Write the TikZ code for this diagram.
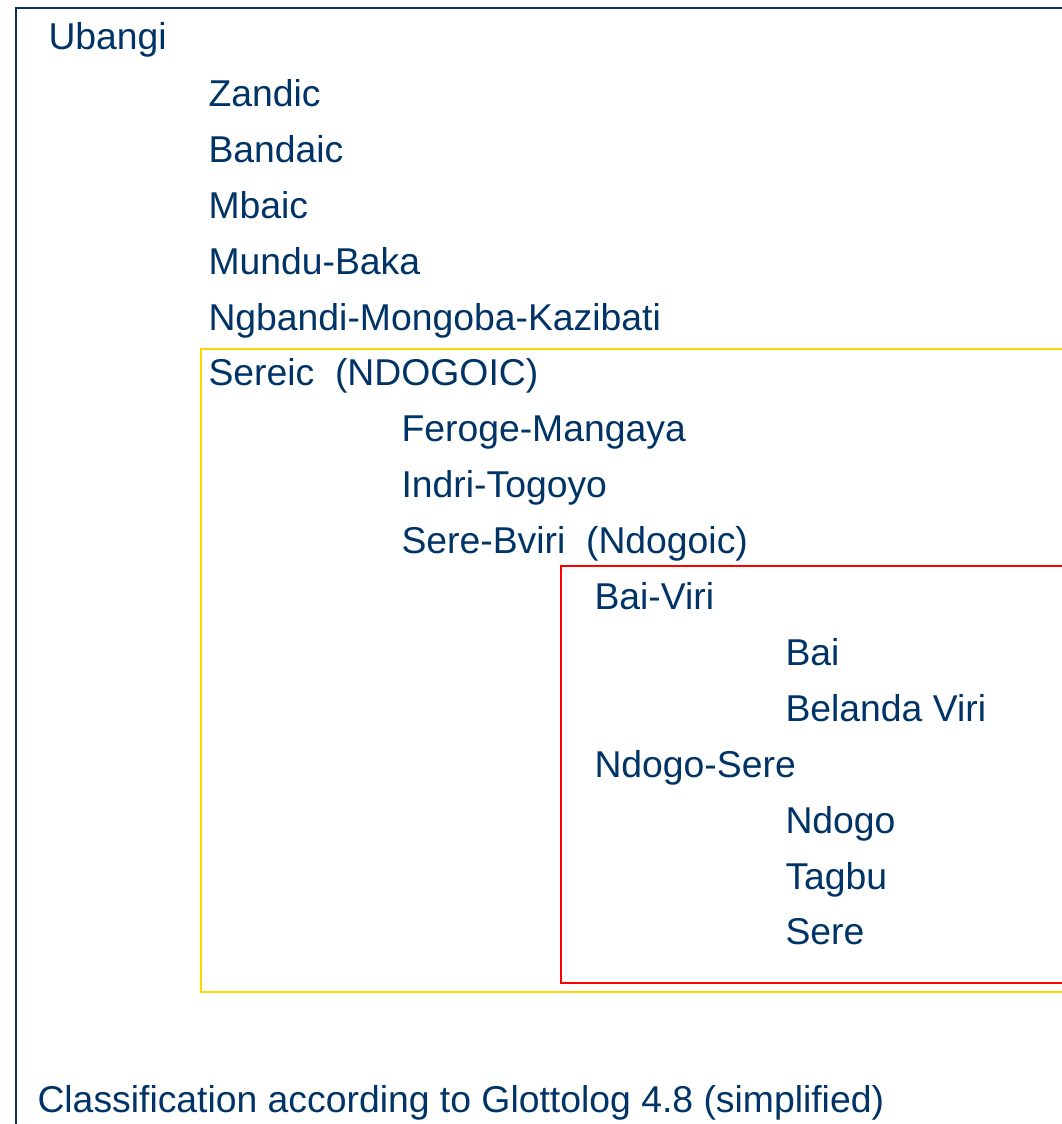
\documentclass[tikz,border=0pt]{standalone}
\usepackage{fontspec}
\setmainfont{Liberation Sans}
\definecolor{navy}{RGB}{0,51,102}
\definecolor{gold}{RGB}{255,215,0}
\tikzset{every picture/.style={line width=0.75pt}}
\tikzset{lang/.style={anchor=base west,inner sep=0pt,text=navy,font=\fontsize{28}{34}\selectfont}}

\begin{document}
\begin{tikzpicture}[x=0.75pt,y=0.75pt,yscale=-1,xscale=1]
	\useasboundingbox (0,0) rectangle (1061,1124);

	%Shape: Rectangle [id:outer]
	\draw  [draw=navy,line width=2pt] (16,8) -- (1080,8) -- (1080,1140) -- (16,1140) -- cycle ;
	%Shape: Rectangle [id:sereic]
	\draw  [draw=gold,line width=2pt] (201,349) -- (1080,349) -- (1080,992) -- (201,992) -- cycle ;
	%Shape: Rectangle [id:serebviri]
	\draw  [draw=red,line width=2pt] (561,566) -- (1080,566) -- (1080,983) -- (561,983) -- cycle ;

	% Text Node
	\node [lang] (ubangi) at (48,50) {Ubangi};
	% Text Node
	\node [lang] (zandic) at (208,106) {Zandic};
	% Text Node
	\node [lang] (bandaic) at (208,162) {Bandaic};
	% Text Node
	\node [lang] (mbaic) at (208,218) {Mbaic};
	% Text Node
	\node [lang] (mundubaka) at (208,274) {Mundu-Baka};
	% Text Node
	\node [lang] (ngbandi) at (208,330) {Ngbandi-Mongoba-Kazibati};
	% Text Node
	\node [lang] (sereic) at (208,385) {Sereic\ \ (NDOGOIC)};
	% Text Node
	\node [lang] (feroge) at (401,441) {Feroge-Mangaya};
	% Text Node
	\node [lang] (indri) at (401,497) {Indri-Togoyo};
	% Text Node
	\node [lang] (serebviri) at (401,553) {Sere-Bviri\ \ (Ndogoic)};
	% Text Node
	\node [lang] (baiviri) at (594,609) {Bai-Viri};
	% Text Node
	\node [lang] (bai) at (785,665) {Bai};
	% Text Node
	\node [lang] (belanda) at (785,721) {Belanda Viri};
	% Text Node
	\node [lang] (ndogosere) at (594,777) {Ndogo-Sere};
	% Text Node
	\node [lang] (ndogo) at (785,833) {Ndogo};
	% Text Node
	\node [lang] (tagbu) at (785,889) {Tagbu};
	% Text Node
	\node [lang] (sere) at (785,944) {Sere};
	% Text Node
	\node [lang] (source) at (37,1112) {Classification according to Glottolog 4.8 (simplified)};

\end{tikzpicture}
\end{document}
